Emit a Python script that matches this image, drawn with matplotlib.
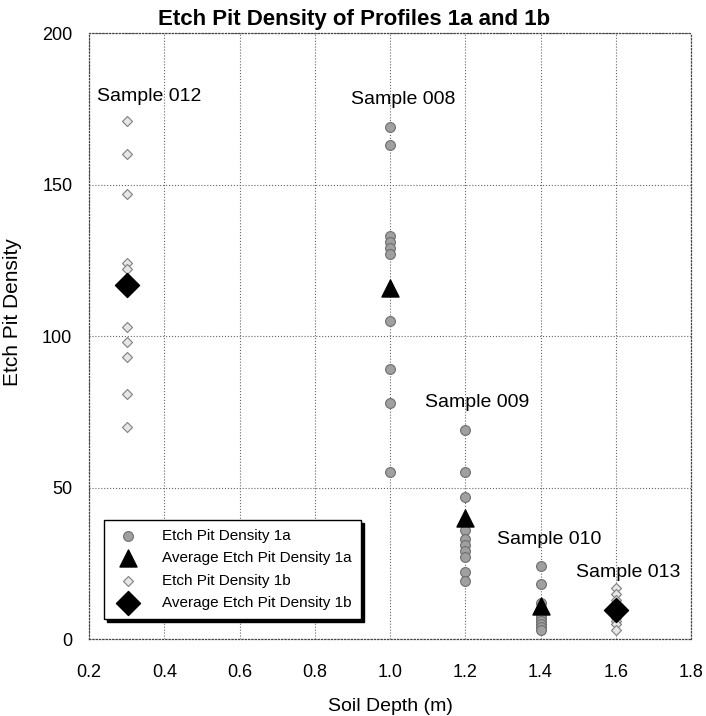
import numpy as np
import matplotlib.pyplot as plt

plt.rcParams['font.family'] = ['Liberation Sans', 'DejaVu Sans']

# profile 1a: individual etch pit densities per soil depth
depth_1a = [1.0] * 10 + [1.2] * 10 + [1.4] * 10
epd_1a = [169, 163, 133, 131, 129, 127, 105, 89, 78, 55,
          69, 55, 47, 36, 33, 31, 29, 27, 22, 19,
          24, 18, 12, 10, 8, 7, 6, 5, 4, 3]
avg_depth_1a = [1.0, 1.2, 1.4]
avg_epd_1a = [116, 40, 11]

# profile 1b
depth_1b = [0.3] * 10 + [1.6] * 10
epd_1b = [171, 160, 147, 124, 122, 103, 98, 93, 81, 70,
          17, 15, 13, 11, 9, 8, 7, 6, 5, 3]
avg_depth_1b = [0.3, 1.6]
avg_epd_1b = [117, 9.5]

sample_names = ['Sample 012', 'Sample 008', 'Sample 009', 'Sample 010', 'Sample 013']
label_x = [0.221, 0.897, 1.094, 1.285, 1.493]
label_y = [179, 178, 78, 33, 22]

fig = plt.figure(figsize=(7.06, 7.16), dpi=100)
ax = fig.add_axes([0.1261, 0.1075, 0.8527, 0.8464])

ax.scatter(depth_1a, epd_1a, s=50, marker='o', color='#a0a0a0',
           edgecolor='#6e6e6e', linewidth=0.8, label='Etch Pit Density 1a', zorder=3)
ax.scatter(avg_depth_1a, avg_epd_1a, s=150, marker='^', color='black',
           label='Average Etch Pit Density 1a', zorder=4)
ax.scatter(depth_1b, epd_1b, s=26, marker='D', color='#e6e6e6',
           edgecolor='#808080', linewidth=0.8, label='Etch Pit Density 1b', zorder=3)
ax.scatter(avg_depth_1b, avg_epd_1b, s=150, marker='D', color='black',
           label='Average Etch Pit Density 1b', zorder=4)

for name, x, y in zip(sample_names, label_x, label_y):
    ax.text(x, y, name, fontsize=14, ha='left', va='center')

ax.set_xlim(0.2, 1.8)
ax.set_ylim(0, 200)
ax.set_xticks(np.arange(0.2, 1.81, 0.2))
ax.set_xticklabels([f'{v:.1f}' for v in np.arange(0.2, 1.81, 0.2)])
ax.set_yticks([0, 50, 100, 150, 200])
ax.tick_params(axis='x', length=0, pad=18, labelsize=13)
ax.tick_params(axis='y', length=0, pad=12, labelsize=13)
ax.grid(True, linestyle=':', color='#666666', linewidth=0.8)
for sp in ax.spines.values():
    sp.set_linestyle(':')
    sp.set_color('#444444')
    sp.set_linewidth(0.9)

ax.set_xlabel('Soil Depth (m)', fontsize=14)
ax.set_ylabel('Etch Pit Density', fontsize=15)
ax.xaxis.set_label_coords(0.5, -0.098)
ax.yaxis.set_label_coords(-0.112, 0.54)

fig.text(0.501, 0.973, 'Etch Pit Density of Profiles 1a and 1b',
         fontsize=16, fontweight='bold', ha='center', va='center')

leg = ax.legend(loc='lower left', bbox_to_anchor=(0.012, 0.02), fontsize=11,
                fancybox=False, shadow={'color': 'black', 'alpha': 1}, framealpha=1,
                edgecolor='black', borderpad=0.6, labelspacing=0.55, handletextpad=1.2)
leg.get_frame().set_linewidth(1.0)

fig.savefig('out.png', dpi=100)
